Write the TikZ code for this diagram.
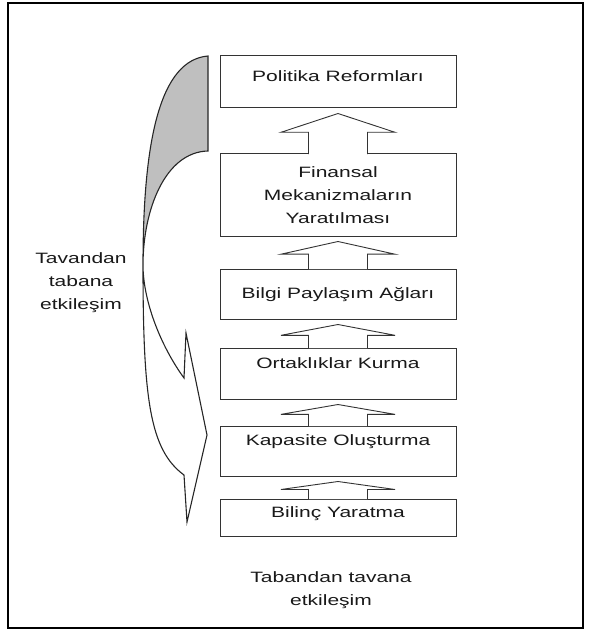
\documentclass[tikz,border=0pt]{standalone}
\usepackage{fontspec}
\setmainfont{Liberation Sans}[FakeStretch=1.4]
\usetikzlibrary{calc}

\begin{document}
\begin{tikzpicture}[x=1pt,y=-1pt,
    stage/.style={draw=black!80, line width=1pt, fill=white, minimum width=236pt, inner sep=0pt,
      font=\fontsize{15}{23}\selectfont, text=black!90},
    uparrow/.style={draw=black!80, line width=0.9pt, fill=white, line join=miter},
    sidetext/.style={align=center, font=\fontsize{15}{23}\selectfont, text=black!90}]
    \useasboundingbox (0,0) rectangle (590,631);
    \draw[line width=1.5pt] (8,3) rectangle (583,628);

    % stages, bottom one is the first step
    \node[stage, minimum height=52pt, text height=11pt, text depth=11pt] (pol) at (338,82) {Politika Reformları};
    \node[stage, minimum height=82pt, align=center] (fin) at (338,195) {Finansal\\Mekanizmaların\\Yaratılması};
    \node[stage, minimum height=50pt, text height=11pt, text depth=3pt] (bil) at (338,294) {Bilgi Paylaşım Ağları};
    \node[stage, minimum height=51pt, text height=11pt, text depth=21pt] (ort) at (338,373.5) {Ortaklıklar Kurma};
    \node[stage, minimum height=50pt, text height=11pt, text depth=23pt] (kap) at (338,451) {Kapasite Oluşturma};
    \node[stage, minimum height=37pt, text height=11pt, text depth=11pt] (bln) at (338,517.5) {Bilinç Yaratma};

    \foreach \lo/\up in {fin/pol, bil/fin, ort/bil, kap/ort, bln/kap} {
      \coordinate (tip-\lo) at ($(\up.south)+(0,5)$);
      \coordinate (base-\lo) at ($(tip-\lo)!0.47!(\lo.north)$);
      \filldraw[uparrow] ($(\lo.north)+(-29.5,0.6)$) -- ($(base-\lo)+(-29.5,0)$) -- ($(base-\lo)+(-57,0)$)
        -- (tip-\lo) -- ($(base-\lo)+(57,0)$) -- ($(base-\lo)+(29.5,0)$) -- ($(\lo.north)+(29.5,0.6)$);
    }

    % curved arrow on the left
    \fill[gray!50] (208,56) .. controls (160,60) and (143,140) .. (143,265)
      .. controls (143,210) and (165,152) .. (208,151) -- cycle;
    \draw[line width=1.1pt, black!85, line join=miter] (208,56) .. controls (160,60) and (143,140) .. (143,265)
      .. controls (143,400) and (150,450) .. (184,475) -- (187,522) -- (207,435) -- (186,333) -- (184,378)
      .. controls (160,345) and (143,300) .. (143,265)
      .. controls (143,210) and (165,152) .. (208,151) -- cycle;

    \node[sidetext] (downtext) at (81,283) {Tavandan\\tabana\\etkileşim};
    \node[sidetext] (uptext) at (331,590) {Tabandan tavana\\etkileşim};
\end{tikzpicture}
\end{document}
